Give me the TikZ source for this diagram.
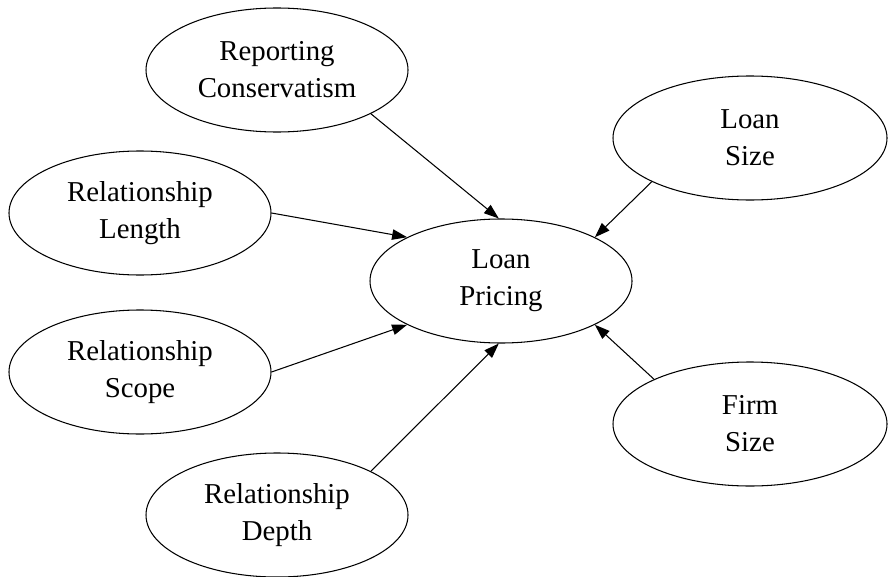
\documentclass[tikz,border=0pt]{standalone}
\usepackage{fontspec}
\setmainfont{Liberation Serif}
\usepackage{tikz}
\usetikzlibrary{shapes.geometric, arrows.meta}

\begin{document}
\begin{tikzpicture}[
    factor/.style={ellipse, draw, line width=0.6pt, minimum width=5.24cm, minimum height=2.48cm, inner sep=0pt, align=center, font=\fontsize{16.4}{21}\selectfont},
    wide/.style={factor, minimum width=5.48cm},
    arrow/.style={-{Triangle[length=3mm, width=2.1mm]}, line width=0.6pt}
]
\useasboundingbox (0,0) rectangle (17.76,-11.52);

% Determinants on the left
\node[factor] (rep) at (5.54,-1.40) {Reporting\\Conservatism};
\node[factor] (len) at (2.80,-4.26) {Relationship\\Length};
\node[factor] (scope) at (2.80,-7.44) {Relationship\\Scope};
\node[factor] (depth) at (5.54,-10.30) {Relationship\\Depth};

% Outcome
\node[factor] (price) at (10.02,-5.62) {Loan\\Pricing};

% Controls on the right
\node[wide] (lsize) at (15.0,-2.76) {Loan\\Size};
\node[wide] (fsize) at (15.0,-8.48) {Firm\\Size};

% Arrows
\draw[arrow] (rep.-25) -- (price.92);
\draw[arrow] (len.0) -- (price.155);
\draw[arrow] (scope.0) -- (price.205);
\draw[arrow] (depth.25) -- (price.268);
\draw[arrow] (lsize.204) -- (price.25);
\draw[arrow] (fsize.155) -- (price.-25);

\end{tikzpicture}
\end{document}
